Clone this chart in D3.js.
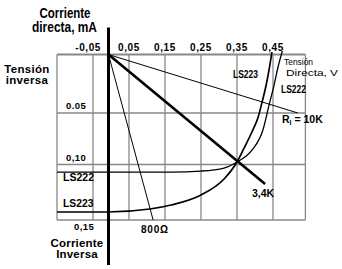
<!DOCTYPE html>
<html>
<head>
<meta charset="utf-8">
<script src="https://cdn.jsdelivr.net/npm/d3@7"></script>
<style>
    body { margin: 0; background: #fff; }
    svg { display: block; }
    .bold { font-family: "Liberation Sans", Arial, sans-serif; font-weight: bold; }
    .plain { font-family: "Liberation Sans", Arial, sans-serif; }
</style>
</head>
<body>
<svg id="chart" width="342" height="269"></svg>
<script>
// tick values and their printed labels
const xTicks = [-0.05, 0.05, 0.15, 0.25, 0.35, 0.45]
const xTickLabels = ["-0,05", "0,05", "0,15", "0,25", "0,35", "0,45"]
const yTicks = [0.05, 0.10, 0.15]
const yTickLabels = ["0.05", "0,10", "0,15"]

// diode curves
const ls222X = [-0.15, 0.167, 0.25, 0.314, 0.35, 0.392, 0.422, 0.439, 0.453, 0.464, 0.476]
const ls222Y = [0.1068, 0.1068, 0.1059, 0.1032, 0.0976, 0.0859, 0.0665, 0.0432, 0.0261, 0.0107, -0.003]
const ls223X = [-0.15, -0.011, 0.108, 0.167, 0.25, 0.314, 0.35, 0.367, 0.394, 0.408, 0.419, 0.431, 0.439, 0.447]
const ls223Y = [0.1428, 0.1428, 0.1401, 0.1365, 0.1275, 0.1131, 0.0976, 0.0859, 0.0665, 0.0549, 0.0415, 0.0261, 0.0132, -0.002]

// load lines, all starting at the axis origin
const loadNames = ["10K", "3,4K", "800Ω"]
const loadEndX = [0.519, 0.428, 0.117]
const loadEndY = [0.05, 0.1176, 0.15]
const originX = -0.007

let x = d3.scaleLinear().domain([-0.15, 0.54]).range([57, 305.4])
let y = d3.scaleLinear().domain([0, 0.05, 0.10, 0.15]).range([54.5, 113, 164.5, 220])

const svg = d3.select("#chart")

// grid
let grid = svg.append("g").attr("stroke", "#888").attr("fill", "none")
grid.selectAll("line.v")
    .data(xTicks.concat([x.domain()[0], x.domain()[1]]))
    .join("line")
    .attr("x1", d => x(d)).attr("x2", d => x(d))
    .attr("y1", y(0)).attr("y2", y(0.15))
    .attr("stroke-width", 1.3)
grid.selectAll("line.h")
    .data(yTicks)
    .join("line")
    .attr("class", "h")
    .attr("x1", x.range()[0]).attr("x2", x.range()[1])
    .attr("y1", d => y(d)).attr("y2", d => y(d))
    .attr("stroke-width", 1.3)
grid.append("line")
    .attr("x1", x.range()[0]).attr("x2", x.range()[1])
    .attr("y1", y(0)).attr("y2", y(0))
    .attr("stroke-width", 2.2)

// top tick labels
svg.append("g")
    .attr("class", "bold")
    .attr("font-size", 10)
    .attr("letter-spacing", 0.6)
    .selectAll("text")
    .data(xTicks)
    .join("text")
    .attr("x", d => d < 0 ? x(d) + 8 : x(d))
    .attr("y", 51)
    .attr("text-anchor", d => d < 0 ? "end" : "middle")
    .text((d, i) => xTickLabels[i])

// left tick labels
svg.append("g")
    .attr("class", "bold")
    .attr("font-size", 9.5)
    .attr("letter-spacing", 0.4)
    .selectAll("text")
    .data(yTicks)
    .join("text")
    .attr("x", d => d === 0.15 ? 74 : 66)
    .attr("y", d => d === 0.15 ? y(d) + 10 : y(d) - 4)
    .text((d, i) => yTickLabels[i])

// load lines
let lineW = [1, 2.6, 1]
svg.append("g")
    .attr("stroke", "#000")
    .selectAll("line")
    .data(loadNames)
    .join("line")
    .attr("x1", x(originX)).attr("y1", y(0))
    .attr("x2", (d, i) => x(loadEndX[i]))
    .attr("y2", (d, i) => y(loadEndY[i]))
    .attr("stroke-width", (d, i) => lineW[i])

// diode curves
let curve = d3.line()
    .x(d => x(d[0]))
    .y(d => y(d[1]))
    .curve(d3.curveMonotoneX)
svg.append("path")
    .datum(d3.zip(ls222X, ls222Y))
    .attr("d", curve)
    .attr("fill", "none")
    .attr("stroke", "#000")
    .attr("stroke-width", 1.3)
svg.append("path")
    .datum(d3.zip(ls223X, ls223Y))
    .attr("d", curve)
    .attr("fill", "none")
    .attr("stroke", "#000")
    .attr("stroke-width", 1.7)

// vertical axis
svg.append("line")
    .attr("x1", x(originX)).attr("x2", x(originX))
    .attr("y1", y(0) - 27).attr("y2", y(0.15) + 45)
    .attr("stroke", "#000")
    .attr("stroke-width", 3)

// squeezed text helper (the original face is condensed)
function squeezed(g, tx, ty, txt, len) {
    return g.append("text")
        .attr("x", tx).attr("y", ty)
        .attr("textLength", len)
        .attr("lengthAdjust", "spacingAndGlyphs")
        .text(txt)
}

// titles
let t1 = svg.append("g").attr("class", "bold").attr("font-size", 13.8)
squeezed(t1, 39.5, 18, "Corriente", 51)
squeezed(t1, 32, 32, "directa, mA", 65)

let t2 = svg.append("text").attr("class", "bold").attr("font-size", 11.5).attr("text-anchor", "middle").attr("letter-spacing", 0.3)
t2.append("tspan").attr("x", 27).attr("y", 73).text("Tensión")
t2.append("tspan").attr("x", 27).attr("y", 84).text("inversa")

let t3 = svg.append("text").attr("class", "bold").attr("font-size", 11.5).attr("text-anchor", "middle").attr("letter-spacing", 0.2)
t3.append("tspan").attr("x", 77).attr("y", 247).text("Corriente")
t3.append("tspan").attr("x", 77).attr("y", 258).text("Inversa")

let t4 = svg.append("g").attr("class", "plain").attr("font-size", 9.8)
squeezed(t4, 284, 64.5, "Tensión", 29)
squeezed(t4, 286, 75.5, "Directa, V", 52)

// curve and line labels
let labels = svg.append("g").attr("class", "bold").attr("font-size", 11)
squeezed(labels, 233, 77.5, "LS223", 25)
squeezed(labels, 281, 92.5, "LS222", 25)
let labelsLeft = svg.append("g").attr("class", "bold").attr("font-size", 10.5)
squeezed(labelsLeft, 63, 180.5, "LS222", 31)
squeezed(labelsLeft, 63, 207, "LS223", 30.5)

let rl = svg.append("text").attr("class", "bold").attr("font-size", 10.5).attr("x", 282).attr("y", 123)
rl.append("tspan").text("R")
rl.append("tspan").attr("font-size", 7).attr("dy", 2).text("l")
rl.append("tspan").attr("dy", -2).text(" = 10K")

svg.append("text").attr("class", "bold").attr("font-size", 10.5)
    .attr("x", 252).attr("y", 197).text(loadNames[1])
svg.append("text").attr("class", "bold").attr("font-size", 10).attr("letter-spacing", 0.8)
    .attr("x", 141).attr("y", 233).text(loadNames[2])
</script>
</body>
</html>
